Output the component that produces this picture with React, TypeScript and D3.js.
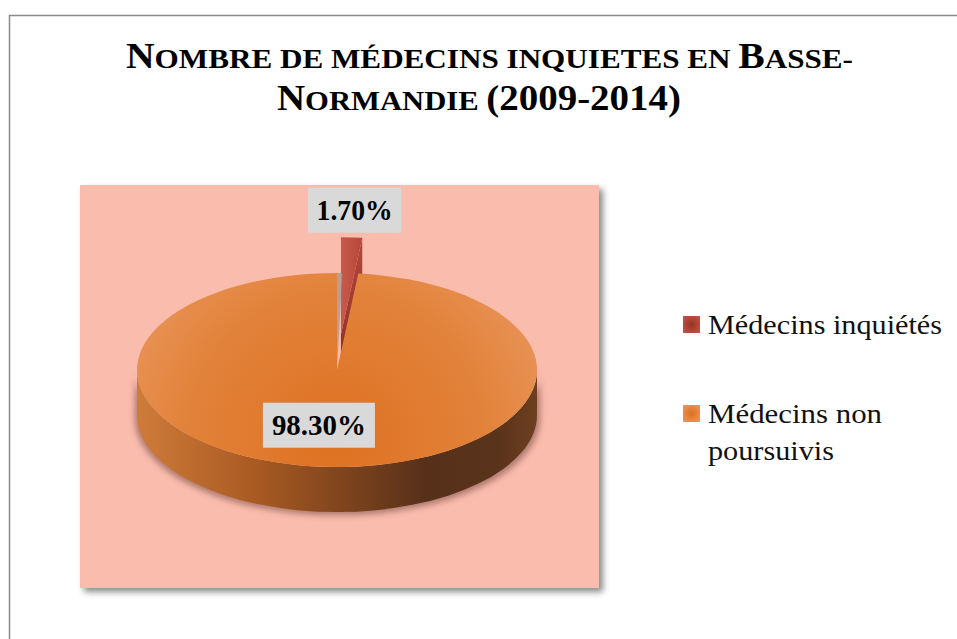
import React from "react";
import * as d3 from "d3";

const categories = ["Médecins inquiétés", "Médecins non poursuivis"];
const values = [1.7, 98.3];
const valueLabels = ["1.70%", "98.30%"];
const legendLines = [["Médecins inquiétés"], ["Médecins non", "poursuivis"]];
const explode = [0.37, 0];

const W = 957, H = 639;
const cx = 337, cy = 370, rx = 200, ry = 97, depth = 45;
const SERIF = '"Liberation Serif", "Times New Roman", Times, "DejaVu Serif", serif';

type Pt = [number, number];
const rim = (t: number, ox: number, oy: number, z = 0): Pt => [
  cx + ox + rx * Math.sin(t),
  cy + oy - ry * Math.cos(t) + z,
];
const P = (p: Pt) => `${p[0].toFixed(2)},${p[1].toFixed(2)}`;

export default function App() {
  const pie = d3.pie<number>().sort(null).startAngle(0).endAngle(2 * Math.PI);
  const arcs = pie(values).map((a, i) => {
    const mid = (a.startAngle + a.endAngle) / 2;
    const e = explode[i];
    const ox = e * rx * Math.sin(mid);
    const oy = -e * ry * Math.cos(mid);
    return { ...a, i, mid, ox, oy };
  });
  const order = [...arcs].sort((a, b) => Math.cos(b.mid) - Math.cos(a.mid));

  const topFill = ["url(#gTopRed)", "url(#gTopOrange)"];
  const sideFill = ["url(#gSideRed)", "url(#gSideOrange)"];
  const cutFill = ["url(#gCutRed)", "#8a4a1c"];

  const slicePaths = (a: any) => {
    const { startAngle: a0, endAngle: a1, ox, oy } = a;
    const apex: Pt = [cx + ox, cy + oy];
    const apexD: Pt = [apex[0], apex[1] + depth];
    const large = a1 - a0 > Math.PI ? 1 : 0;
    const top = `M${P(apex)}L${P(rim(a0, ox, oy))}A${rx},${ry} 0 ${large} 1 ${P(rim(a1, ox, oy))}Z`;
    const s = Math.max(a0, Math.PI / 2), e2 = Math.min(a1, (3 * Math.PI) / 2);
    let side: string | null = null;
    if (e2 > s) {
      side = `M${P(rim(s, ox, oy))}A${rx},${ry} 0 0 1 ${P(rim(e2, ox, oy))}L${P(rim(e2, ox, oy, depth))}A${rx},${ry} 0 0 0 ${P(rim(s, ox, oy, depth))}Z`;
    }
    const cuts: string[] = [];
    const faces: [number, number][] = [[a0, a0 - Math.PI / 2], [a1, a1 + Math.PI / 2]];
    faces.forEach(([ang, n]) => {
      if (-Math.cos(n) > 0.01) {
        cuts.push(`M${P(apex)}L${P(rim(ang, ox, oy))}L${P(rim(ang, ox, oy, depth))}L${P(apexD)}Z`);
      }
    });
    return { top, side, cuts, apex };
  };

  const big = arcs[1];
  const bigP = slicePaths(big);
  // thin gray sliver: the big slice's edge at angle 0 seen through the gap
  const sliver = `M${P([cx, cy])}L${P(rim(0, 0, 0))}L${P(rim(big.startAngle * 0.25, 0, 0))}Z`;

  const labelPos = (a: any) => {
    const f = a.i === 0 ? 1.28 : 0.57;
    const nudge = a.i === 0 ? 0 : -12;
    return [cx + a.ox + rx * f * Math.sin(a.mid) + nudge, cy + a.oy - ry * f * Math.cos(a.mid)];
  };
  const boxSize = [[93, 45], [112, 45]];
  const textLens = [76, 94];

  const legendY = [316, 405];
  const legendColors = ["url(#gLegRed)", "url(#gLegOrange)"];
  const legendLens = [[234], [174, 126]];

  return (
    <svg width={W} height={H} style={{ position: "absolute", left: 0, top: 0, background: "#fff" }}
      xmlns="http://www.w3.org/2000/svg">
      <defs>
        <filter id="rectShadow" x="-10%" y="-10%" width="125%" height="125%">
          <feDropShadow dx="4" dy="4" stdDeviation="3" floodColor="#000" floodOpacity="0.45" />
        </filter>
        <filter id="blur4" x="-20%" y="-20%" width="140%" height="140%">
          <feGaussianBlur stdDeviation="3" />
        </filter>
        <radialGradient id="gTopOrange" gradientUnits="userSpaceOnUse" cx="335" cy="440" r="270">
          <stop offset="0" stopColor="#de7121" />
          <stop offset="0.55" stopColor="#e2823a" />
          <stop offset="1" stopColor="#eb9c66" />
        </radialGradient>
        <linearGradient id="gSideOrange" gradientUnits="userSpaceOnUse" x1="137" y1="0" x2="537" y2="0">
          <stop offset="0" stopColor="#cf7b3a" />
          <stop offset="0.3" stopColor="#a85a22" />
          <stop offset="0.72" stopColor="#57301a" />
          <stop offset="0.9" stopColor="#5a331b" />
          <stop offset="1" stopColor="#6e3f20" />
        </linearGradient>
        <linearGradient id="gTopRed" x1="0" y1="0" x2="1" y2="0">
          <stop offset="0" stopColor="#c85a4c" />
          <stop offset="1" stopColor="#b54638" />
        </linearGradient>
        <linearGradient id="gSideRed" x1="0" y1="0" x2="1" y2="0">
          <stop offset="0" stopColor="#8e2e22" />
          <stop offset="1" stopColor="#6e2018" />
        </linearGradient>
        <linearGradient id="gCutRed" x1="0" y1="0" x2="0" y2="1">
          <stop offset="0" stopColor="#b5473a" />
          <stop offset="1" stopColor="#8a2e24" />
        </linearGradient>
        <radialGradient id="gLegRed" cx="0.5" cy="0.5" r="0.7">
          <stop offset="0" stopColor="#9a3322" />
          <stop offset="1" stopColor="#c45748" />
        </radialGradient>
        <radialGradient id="gLegOrange" cx="0.5" cy="0.5" r="0.7">
          <stop offset="0" stopColor="#de701f" />
          <stop offset="1" stopColor="#ec9a60" />
        </radialGradient>
      </defs>

      <rect x={9.5} y={15.5} width={1000} height={700} fill="none" stroke="#8c8c8c" strokeWidth={1.5} />

      <text style={{ fontFamily: SERIF, fontWeight: 700 }} fill="#000"
        x={126} y={68} textLength={727} lengthAdjust="spacingAndGlyphs">
        <tspan fontSize={35}>N</tspan>
        <tspan fontSize={27.5}>OMBRE DE MÉDECINS INQUIETES EN </tspan>
        <tspan fontSize={35}>B</tspan>
        <tspan fontSize={27.5}>ASSE-</tspan>
      </text>
      <text style={{ fontFamily: SERIF, fontWeight: 700 }} fill="#000"
        x={277} y={110} textLength={404} lengthAdjust="spacingAndGlyphs">
        <tspan fontSize={35}>N</tspan>
        <tspan fontSize={27.5}>ORMANDIE </tspan>
        <tspan fontSize={35}>(2009-2014)</tspan>
      </text>

      <rect x={80} y={185} width={519} height={403} fill="#fabcad" filter="url(#rectShadow)" />

      <g filter="url(#blur4)" opacity={0.55}>
        {bigP.side && <path d={bigP.side} fill="#6b4038" transform="translate(-2,3)" />}
        {bigP.side && <path d={bigP.side} fill="#6b4038" transform="translate(3,3)" />}
      </g>

      {order.map((a) => {
        const p = slicePaths(a);
        return (
          <g key={a.i}>
            {p.side && <path d={p.side} fill={sideFill[a.i]} />}
            {p.cuts.map((c, k) => (
              <path key={k} d={c} fill={cutFill[a.i]} />
            ))}
            <path d={p.top} fill={topFill[a.i]} />
          </g>
        );
      })}
      <path d={sliver} fill="#a89890" opacity={0.8} />

      {arcs.map((a) => {
        const [lx, ly] = labelPos(a);
        const [bw, bh] = boxSize[a.i];
        return (
          <g key={"l" + a.i}>
            <rect x={lx - bw / 2} y={ly - bh / 2} width={bw} height={bh} fill="#d9d9d9" />
            <text x={lx} y={ly + 10} textAnchor="middle" style={{ fontFamily: SERIF, fontWeight: 700 }}
              fontSize={29} fill="#000" textLength={textLens[a.i]} lengthAdjust="spacingAndGlyphs">
              {valueLabels[a.i]}
            </text>
          </g>
        );
      })}

      {categories.map((c, i) => (
        <g key={"lg" + i}>
          <rect x={683} y={legendY[i]} width={17} height={17} fill={legendColors[i]} />
          {legendLines[i].map((ln, k) => (
            <text key={k} x={708} y={legendY[i] + 18 + k * 37} style={{ fontFamily: SERIF }}
              fontSize={28} fill="#111" textLength={legendLens[i][k]} lengthAdjust="spacingAndGlyphs">
              {ln}
            </text>
          ))}
        </g>
      ))}
    </svg>
  );
}
